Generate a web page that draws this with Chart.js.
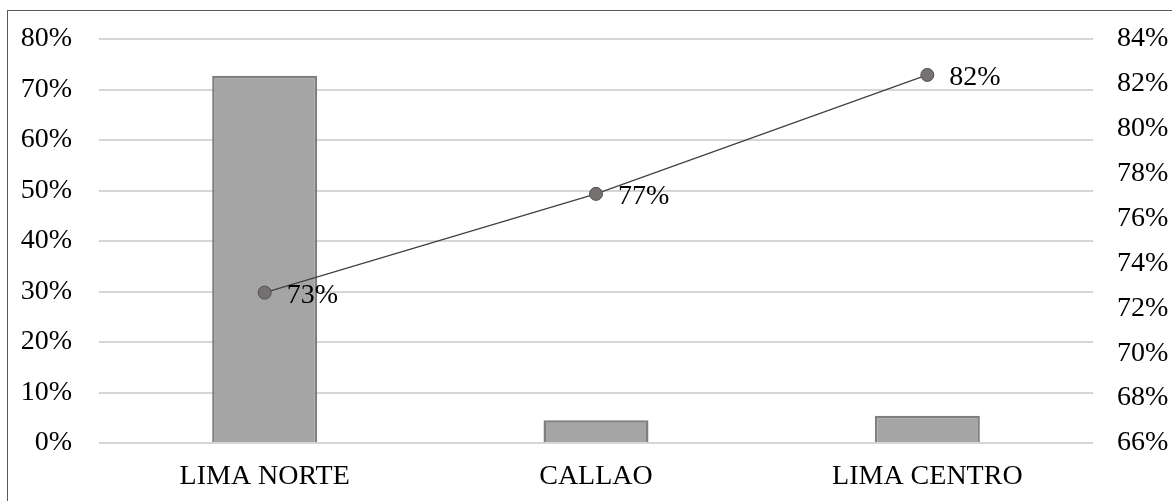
<!DOCTYPE html>
<html>
<head>
<meta charset="utf-8">
<script src="https://cdn.jsdelivr.net/npm/chart.js@4/dist/chart.umd.min.js"></script>
<style>
  html, body { margin: 0; padding: 0; background: #ffffff; }
  #wrap { position: relative; width: 1172px; height: 501px; overflow: hidden; }
  #frame { position: absolute; left: 7px; top: 10px; width: 1300px; height: 700px;
           border: 1.5px solid #595959; box-sizing: border-box; pointer-events: none; }
  canvas { position: absolute; left: 0; top: 0; }
</style>
</head>
<body>
<div id="wrap">
  <canvas id="chart" width="1172" height="501"></canvas>
  <div id="frame"></div>
</div>
<script>
// Zones
const categories = ['LIMA NORTE', 'CALLAO', 'LIMA CENTRO'];
// Share per zone (left axis, %)
const barValues = [72.7, 4.5, 5.4];
// Rate per zone (right axis, %)
const lineValues = [72.7, 77.1, 82.4];
// Axis ranges
const leftTicks = { min: 0, max: 80, step: 10 };
const rightTicks = { min: 66, max: 84, step: 2 };

const FONT = { family: '"Liberation Serif", "Times New Roman", serif', size: 28 };

// Writes the rounded value beside each point of the line
const pointLabels = {
  id: 'pointLabels',
  afterDatasetsDraw(chart) {
    const ctx = chart.ctx;
    const meta = chart.getDatasetMeta(1);
    ctx.save();
    ctx.font = FONT.size + 'px ' + FONT.family;
    ctx.fillStyle = '#000000';
    ctx.textAlign = 'left';
    ctx.textBaseline = 'middle';
    meta.data.forEach((pt, i) => {
      const txt = Math.round(lineValues[i]) + '%';
      ctx.fillText(txt, pt.x + 22, pt.y + 3);
    });
    ctx.restore();
  }
};

// Keep the vertical axes from reserving extra room for their end labels
function fitVertical(width) {
  return s => { s.width = width; s.paddingTop = 0; s.paddingBottom = 0; };
}

new Chart(document.getElementById('chart'), {
  data: {
    labels: categories,
    datasets: [
      {
        type: 'bar',
        data: barValues,
        yAxisID: 'y',
        backgroundColor: '#a5a5a5',
        borderColor: '#7f7f7f',
        borderWidth: 2.5,
        barPercentage: 0.317,
        categoryPercentage: 1,
        order: 2
      },
      {
        type: 'line',
        data: lineValues,
        yAxisID: 'y1',
        borderColor: '#404040',
        borderWidth: 1.2,
        pointRadius: 6.5,
        pointBackgroundColor: '#767171',
        pointBorderColor: '#505050',
        pointBorderWidth: 1,
        tension: 0,
        order: 1
      }
    ]
  },
  options: {
    responsive: false,
    animation: false,
    events: [],
    layout: { padding: { left: 0, right: 0, top: 39, bottom: 0 } },
    plugins: { legend: { display: false }, tooltip: { enabled: false } },
    scales: {
      x: {
        grid: { display: false, drawTicks: false },
        border: { display: false },
        ticks: { color: '#000000', font: FONT, padding: 17, maxRotation: 0, autoSkip: false },
        afterFit(s) { s.height = 58; s.paddingLeft = 0; s.paddingRight = 0; }
      },
      y: {
        position: 'left',
        min: leftTicks.min, max: leftTicks.max,
        grid: { color: '#d6d6d6', lineWidth: 2, drawTicks: false },
        border: { display: false },
        ticks: {
          stepSize: leftTicks.step, color: '#000000', font: FONT, padding: 27,
          callback: v => v + '%'
        },
        afterFit: fitVertical(99)
      },
      y1: {
        position: 'right',
        min: rightTicks.min, max: rightTicks.max,
        grid: { display: false, drawTicks: false },
        border: { display: false },
        ticks: {
          stepSize: rightTicks.step, color: '#000000', font: FONT, padding: 24,
          callback: v => v + '%'
        },
        afterFit: fitVertical(1172 - 1093)
      }
    }
  },
  plugins: [pointLabels]
});
</script>
</body>
</html>
